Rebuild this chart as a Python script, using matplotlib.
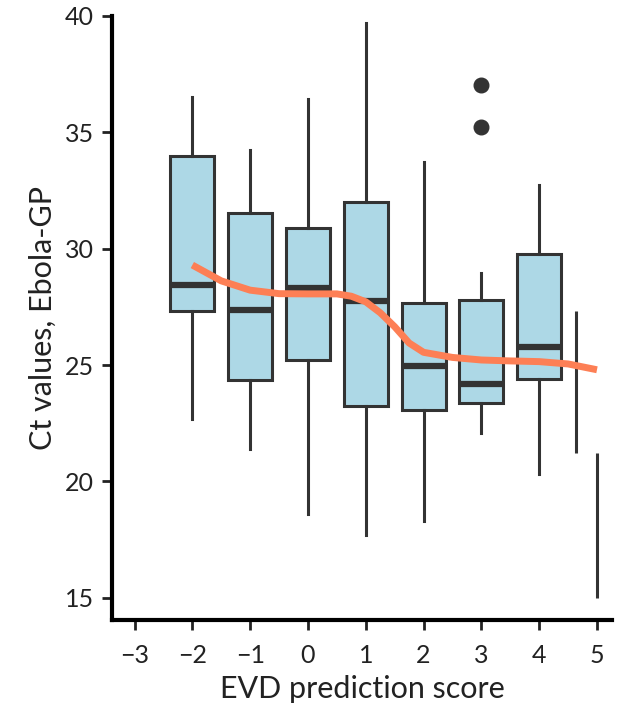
import numpy as np
import matplotlib
matplotlib.use("Agg")
import matplotlib.pyplot as plt

plt.rcParams["font.family"] = ["Lato", "DejaVu Sans"]

# box positions (EVD prediction score) and box statistics (Ct values)
scores = [-2, -1, 0, 1, 2, 3, 4]
q1 = [27.34, 24.36, 25.22, 23.25, 23.08, 23.36, 24.39]
medians = [28.46, 27.37, 28.30, 27.77, 24.98, 24.18, 25.77]
q3 = [33.99, 31.52, 30.91, 32.00, 27.69, 27.80, 29.78]
whisker_lo = [22.70, 21.39, 18.60, 17.71, 18.32, 22.10, 20.31]
whisker_hi = [36.52, 34.24, 36.43, 39.71, 33.73, 28.95, 32.74]
outliers = [[], [], [], [], [], [35.24, 37.04], []]

# lone whisker segments near score 5
seg_x = [4.64, 5.0]
seg_lo = [21.21, 15.0]
seg_hi = [27.34, 21.21]

# smoothed trend line
trend_x = [-2, -1.5, -1, -0.5, 0, 0.5, 0.75, 1, 1.25, 1.5, 1.75, 2, 2.5, 3, 3.5, 4, 4.5, 5]
trend_y = [29.30, 28.62, 28.22, 28.07, 28.06, 28.06, 27.96, 27.72, 27.25, 26.65,
           25.95, 25.55, 25.33, 25.22, 25.18, 25.15, 25.05, 24.80]

dark = "#333333"

fig = plt.figure(figsize=(6.18, 7.14), dpi=100)
ax = fig.add_axes([0.1812, 0.1317, 0.8091, 0.8459])

stats = []
for i in range(len(scores)):
    stats.append({"q1": q1[i], "med": medians[i], "q3": q3[i],
                  "whislo": whisker_lo[i], "whishi": whisker_hi[i],
                  "fliers": outliers[i]})

ax.bxp(stats, positions=scores, widths=0.76, patch_artist=True, showcaps=False,
       boxprops=dict(facecolor="#add8e6", edgecolor=dark, linewidth=2.2),
       medianprops=dict(color=dark, linewidth=4.5, solid_capstyle="butt"),
       whiskerprops=dict(color=dark, linewidth=2.2),
       flierprops=dict(marker="o", markerfacecolor=dark, markeredgecolor=dark,
                       markersize=10.5))

ax.vlines(seg_x, seg_lo, seg_hi, color=dark, linewidth=2.2)

ax.plot(trend_x, trend_y, color="#fd7f55", linewidth=5, solid_capstyle="butt",
        solid_joinstyle="round", zorder=5)

ax.set_xlim(-3.39, 5.26)
ax.set_ylim(14.05, 40)
ax.set_xticks(np.arange(-3, 6))
ax.set_xticklabels([str(v).replace("-", "\u2212") for v in range(-3, 6)])
ax.set_yticks([15, 20, 25, 30, 35, 40])

for side in ["top", "right"]:
    ax.spines[side].set_visible(False)
for side in ["left", "bottom"]:
    ax.spines[side].set_linewidth(3)
    ax.spines[side].set_color("black")

ax.tick_params(axis="both", labelsize=18, length=7, width=2, color="#222222",
               labelcolor="#222222")
ax.tick_params(axis="x", pad=10)
ax.tick_params(axis="y", pad=6)

ax.set_xlabel("EVD prediction score", fontsize=22, color="#222222", labelpad=6)
ax.set_ylabel("Ct values, Ebola-GP", fontsize=22, color="#222222", labelpad=6)

fig.savefig("out.png", dpi=100)
